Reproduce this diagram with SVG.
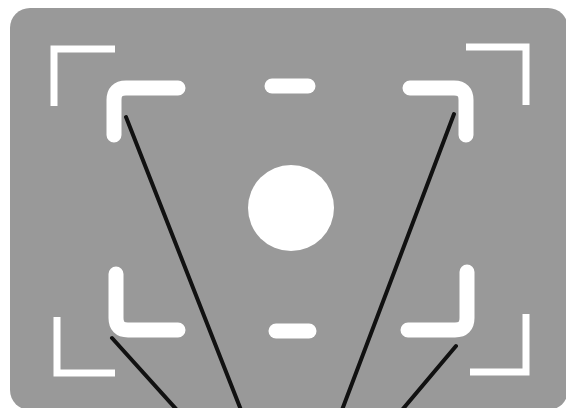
<svg xmlns="http://www.w3.org/2000/svg" width="566" height="408" viewBox="0 0 566 408">
<style>
.thin{fill:none;stroke:#fff;stroke-width:7;stroke-linecap:butt;stroke-linejoin:miter}
.thick{fill:none;stroke:#fff;stroke-width:15;stroke-linecap:round;stroke-linejoin:round}
.ln{fill:none;stroke:#111;stroke-width:4;stroke-linecap:round}
</style>
<rect x="0" y="0" width="566" height="408" fill="#fff"/>
<rect id="screen" x="10" y="8" width="558" height="402" rx="20" fill="#999"/>
<g id="outer-brackets">
<path class="thin" d="M54,106 V49 H115"/>
<path class="thin" d="M466,47 H526 V105"/>
<path class="thin" d="M57,317 V373 H115"/>
<path class="thin" d="M470,372 H526 V314"/>
</g>
<g id="inner-brackets">
<path class="thick" d="M114,135 V100 Q114,88 126,88 H178"/>
<path class="thick" d="M410,88 H454 Q466,88 466,100 V135"/>
<path class="thick" d="M116,274 V318 Q116,330 128,330 H178"/>
<path class="thick" d="M408,330 H455 Q467,330 467,318 V272"/>
<path class="thick" d="M272,86 H308"/>
<path class="thick" d="M276,331 H309"/>
</g>
<g id="spot">
<circle cx="291" cy="208" r="43" fill="#fff"/>
</g>
<g id="connectors">
<line class="ln" x1="126" y1="117" x2="241" y2="410"/>
<line class="ln" x1="454" y1="114" x2="342" y2="410"/>
<line class="ln" x1="112" y1="338" x2="177" y2="410"/>
<line class="ln" x1="456" y1="346" x2="402" y2="410"/>
</g>
</svg>
